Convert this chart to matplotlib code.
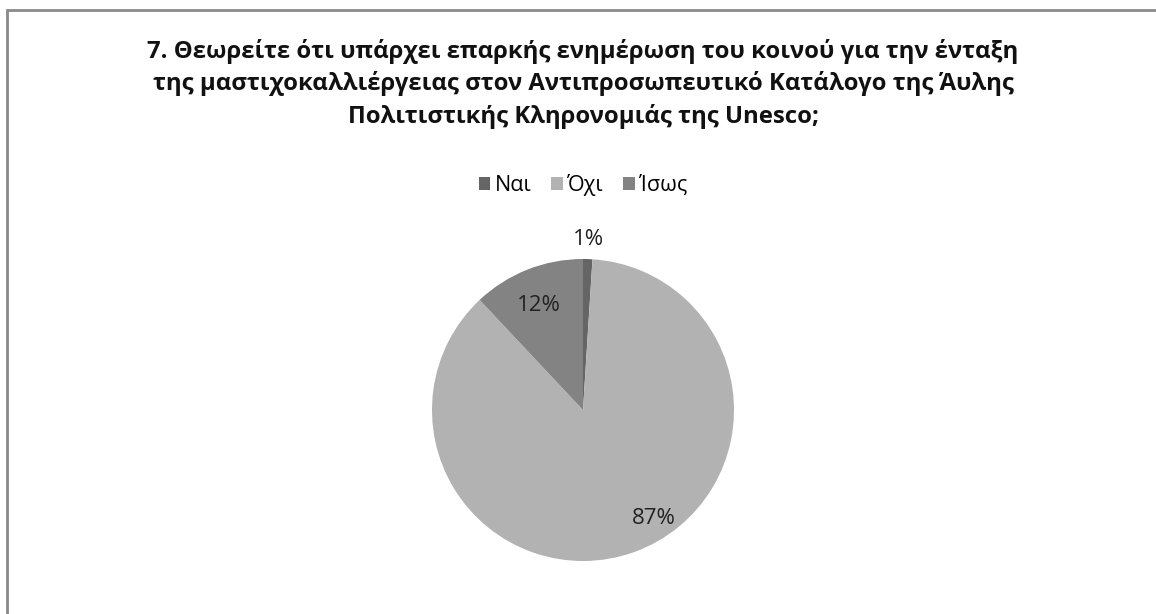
import matplotlib
matplotlib.use('Agg')
import matplotlib.pyplot as plt
from matplotlib.patches import Rectangle
import numpy as np

# Survey answers (percent)
labels = ['Ναι', 'Όχι', 'Ίσως']
values = [1, 87, 12]
colors = ['#656565', '#b2b2b2', '#838383']
title = ('7. Θεωρείτε ότι υπάρχει επαρκής ενημέρωση του κοινού για την ένταξη\n'
         'της μαστιχοκαλλιέργειας στον Αντιπροσωπευτικό Κατάλογο της Άυλης\n'
         'Πολιτιστικής Κληρονομιάς της Unesco;')

# label placement per slice: radial distance, angle nudge (deg)
label_r = [1.13, 0.86, 0.75]
label_nudge = [0, 13.5, 1.5]

plt.rcParams['font.family'] = ['Open Sans', 'DejaVu Sans']

W, H = 1156, 614
fig = plt.figure(figsize=(W / 100, H / 100), dpi=100)

# chart frame
fig.patches.append(Rectangle((7 / W, -0.1), 1.2, 1.1 - 10 / H, transform=fig.transFigure,
                             fill=False, edgecolor='#8a8a8a', linewidth=2))

cx, cy, r = 583, 410, 151
ax = fig.add_axes([(cx - r) / W, (H - cy - r) / H, 2 * r / W, 2 * r / H])
wedges, _ = ax.pie(values, colors=colors, startangle=90, counterclock=False,
                   wedgeprops=dict(linewidth=0))
ax.set_xlim(-1, 1)
ax.set_ylim(-1, 1)
ax.axis('off')

for w, v, d, nudge in zip(wedges, values, label_r, label_nudge):
    ang = np.deg2rad((w.theta1 + w.theta2) / 2 + nudge)
    ax.text(d * np.cos(ang), d * np.sin(ang), f'{v}%', ha='center', va='center',
            fontsize=16, color='#222222')

fig.text(cx / W, 1 - 84 / H, title, ha='center', va='center', fontsize=17.2,
         fontweight='bold', linespacing=1.42, color='#111111')

fig.legend(wedges, labels, loc='center', bbox_to_anchor=(cx / W, 1 - 185 / H), ncol=3,
           frameon=False, fontsize=15.5, handlelength=0.55, handleheight=0.55,
           handletextpad=0.2, columnspacing=0.9)

fig.savefig('out.png', dpi=100, facecolor='white')
